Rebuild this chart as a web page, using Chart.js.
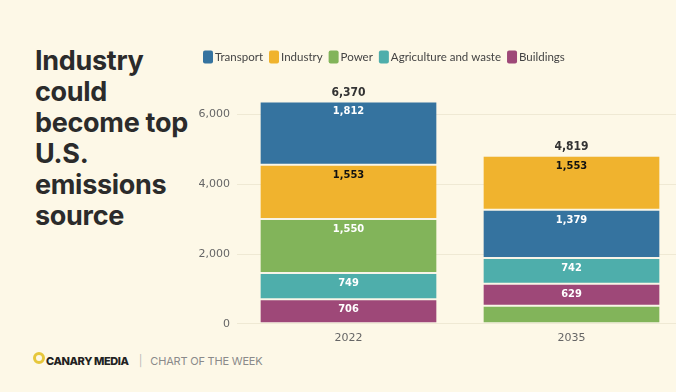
<!DOCTYPE html>
<html>
<head>
<meta charset="utf-8">
<script src="https://cdn.jsdelivr.net/npm/chart.js@4/dist/chart.umd.min.js"></script>
<style>
  html, body { margin: 0; padding: 0; }
  body { width: 676px; height: 392px; background: #fdf8e7; overflow: hidden; position: relative; font-family: Inter, "Noto Sans", sans-serif; }
  #title { position: absolute; left: 35px; top: 45px; font-size: 27px; font-weight: 700; line-height: 31px; color: #2b2b2b; letter-spacing: -0.3px; }
  #box { position: absolute; left: 193px; top: 40px; width: 490px; height: 305px; }
  #footer { position: absolute; left: 33px; top: 354px; font-size: 11px; display: flex; align-items: center; }
  .ring { width: 6px; height: 6px; border: 3px solid #e6c73c; border-radius: 50%; margin-right: 1px; margin-top: -7px; }
  .brand { font-weight: 800; color: #222; letter-spacing: -0.4px; }
  .sep { color: #bbb; margin: 0 8px 0 10px; }
  .sub { color: #8a8a8a; font-size: 11px; letter-spacing: -0.2px; }
</style>
</head>
<body>
<div id="title">Industry<br>could<br>become top<br>U.S.<br>emissions<br>source</div>
<div id="box"><canvas id="chart"></canvas></div>
<div id="footer"><span class="ring"></span><span class="brand">CANARY MEDIA</span><span class="sep">|</span><span class="sub">CHART OF THE WEEK</span></div>
<script>
const years = ["2022", "2035"];
const sectors = ["Transport", "Industry", "Power", "Agriculture and waste", "Buildings"];
const transport = [1812, 1379];
const industry = [1553, 1553];
const power = [1550, 516];
const agriculture = [749, 742];
const buildings = [706, 629];
const totals = [6370, 4819];
const yTicks = [0, 2000, 4000, 6000];

// stacking order from the bottom up, one list per year
const stackOrder = [
  ["Buildings", "Agriculture and waste", "Power", "Industry", "Transport"],
  ["Power", "Buildings", "Agriculture and waste", "Transport", "Industry"]
];

const colors = ["#35739f", "#f0b32e", "#82b45a", "#4eaeab", "#9e4878"];
const labelColors = ["#fff", "#111", "#fff", "#fff", "#fff"];
const values = [transport, industry, power, agriculture, buildings];

function floatingRanges(sectorIndex) {
  return years.map((y, i) => {
    let start = 0;
    for (const name of stackOrder[i]) {
      const v = values[sectors.indexOf(name)][i];
      if (name === sectors[sectorIndex]) return [start, start + v];
      start += v;
    }
  });
}

const datasets = sectors.map((s, k) => ({
  label: s,
  data: floatingRanges(k),
  backgroundColor: colors[k],
  borderColor: "#f7f4e8",
  borderWidth: { top: 1, bottom: 1, left: 0, right: 0 },
  borderSkipped: false,
  grouped: false,
  categoryPercentage: 1,
  barPercentage: 0.79
}));

const fmt = n => n.toLocaleString("en-US");

const barLabels = {
  id: "barLabels",
  afterDatasetsDraw(chart) {
    const ctx = chart.ctx;
    ctx.save();
    ctx.textAlign = "center";
    ctx.textBaseline = "middle";
    ctx.font = "bold 11px 'DejaVu Sans Condensed', 'DejaVu Sans'";
    chart.data.datasets.forEach((ds, k) => {
      chart.getDatasetMeta(k).data.forEach((bar, i) => {
        const v = values[k][i];
        if (v < 600) return;
        const top = Math.min(bar.y, bar.base);
        ctx.fillStyle = labelColors[k];
        ctx.fillText(fmt(v), bar.x, top + 10);
      });
    });
    ctx.font = "bold 12px 'DejaVu Sans Condensed', 'DejaVu Sans'";
    ctx.fillStyle = "#333";
    const ys = chart.scales.y, xs = chart.scales.x;
    totals.forEach((t, i) => {
      ctx.fillText(fmt(t), xs.getPixelForValue(i), ys.getPixelForValue(t) - 9);
    });
    ctx.restore();
  }
};

// compact legend, tighter than the built-in one
const tightLegend = {
  id: "tightLegend",
  afterDraw(chart) {
    const ctx = chart.ctx;
    ctx.save();
    ctx.font = "11.5px Lato";
    ctx.textBaseline = "middle";
    let x = 10;
    const y = 17;
    chart.data.datasets.forEach(ds => {
      ctx.fillStyle = ds.backgroundColor;
      ctx.beginPath();
      ctx.roundRect(x, y - 6.5, 10, 13, 2);
      ctx.fill();
      ctx.fillStyle = "#444";
      ctx.fillText(ds.label, x + 12, y + 0.5);
      x += 12 + ctx.measureText(ds.label).width + 6;
    });
    ctx.restore();
  }
};

new Chart(document.getElementById("chart"), {
  type: "bar",
  data: { labels: years, datasets: datasets },
  plugins: [barLabels, tightLegend],
  options: {
    responsive: true,
    maintainAspectRatio: false,
    animation: false,
    layout: { padding: { top: 57, right: 0, left: 0, bottom: 0 } },
    plugins: {
      tooltip: { enabled: false },
      legend: { display: false }
    },
    scales: {
      x: {
        grid: { display: false },
        border: { display: false },
        ticks: { color: "#666", font: { family: "DejaVu Sans", size: 11 }, padding: 0 }
      },
      y: {
        min: 0,
        max: 6500,
        afterBuildTicks: axis => { axis.ticks = yTicks.map(v => ({ value: v })); },
        afterFit: scale => { scale.width = 44; },
        grid: { color: "#efe9d4", drawTicks: false },
        border: { display: false },
        ticks: { color: "#666", font: { family: "DejaVu Sans", size: 11 }, padding: 7, callback: v => fmt(v) }
      }
    }
  }
});
</script>
</body>
</html>
